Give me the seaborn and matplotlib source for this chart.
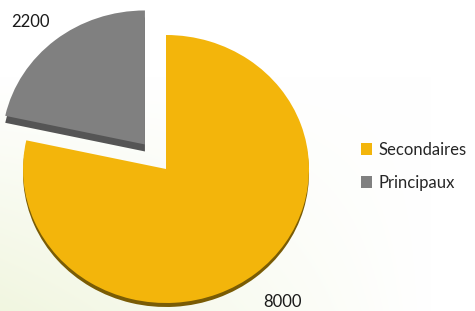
import numpy as np
import matplotlib
matplotlib.use("Agg")
import matplotlib.pyplot as plt
import seaborn as sns
from matplotlib.patches import Patch

sns.set_theme(style="white")
plt.rcParams['font.family'] = ['Lato', 'DejaVu Sans']

categories = ["Secondaires", "Principaux"]
values = [8000, 2200]
value_labels = ["8000", "2200"]
colors = ["#F3B50B", "#808080"]
side_colors = ["#7A5C05", "#555555"]
side_depth = [4, 7]

W, H = 475, 311
fig = plt.figure(figsize=(W / 100, H / 100), dpi=100)

# background gradient
bg = fig.add_axes([0, 0, 1, 1], zorder=0)
yy, xx = np.mgrid[0:1:200j, 0:1:300j]
t = np.clip((yy - 0.25) / 0.75, 0, 1) * np.clip(1 - xx * 1.1, 0, 1)
c0 = np.array([1.0, 1.0, 1.0])
c1 = np.array([0xF1, 0xF6, 0xE0]) / 255
img = c0[None, None, :] * (1 - t[..., None]) + c1[None, None, :] * t[..., None]
bg.imshow(img, aspect="auto", extent=[0, 1, 0, 1], origin="upper")
bg.axis("off")

ax = fig.add_axes([0, 0, 1, 1], zorder=1)
ax.patch.set_alpha(0)
sy = 134 / 143.0
cx, cy = 166, (H - 169) / sy
R = 143
explode = [0.0, 0.235 * R]

# 3D side layers (one per slice, different depth)
for i, d in enumerate(side_depth):
    cols = ["none"] * len(values)
    cols[i] = side_colors[i]
    ax.pie(values, colors=cols, startangle=90, counterclock=False,
           explode=explode, radius=R, center=(cx, cy - d / sy),
           wedgeprops=dict(linewidth=0))
# top layer
ax.pie(values, colors=colors, startangle=90, counterclock=False,
       explode=explode, radius=R, center=(cx, cy),
       wedgeprops=dict(linewidth=0))

ax.set_aspect("auto")
ax.set_xlim(0, W)
ax.set_ylim(0, H / sy)
ax.axis("off")

# data labels (pixel positions)
label_pos = [(282, 302), (30, 22)]
for txt, (px, py) in zip(value_labels, label_pos):
    fig.text(px / W, 1 - py / H, txt, ha="center", va="center",
             fontsize=12, color="#1a1a1a")

handles = [Patch(facecolor=c, edgecolor="none") for c in colors]
fig.legend(handles, categories, loc="center left", bbox_to_anchor=(0.742, 0.465),
           frameon=False, fontsize=12, handlelength=0.7, handleheight=0.7,
           handletextpad=0.35, labelspacing=1.05, borderpad=0)

fig.savefig("out.png", dpi=100)
